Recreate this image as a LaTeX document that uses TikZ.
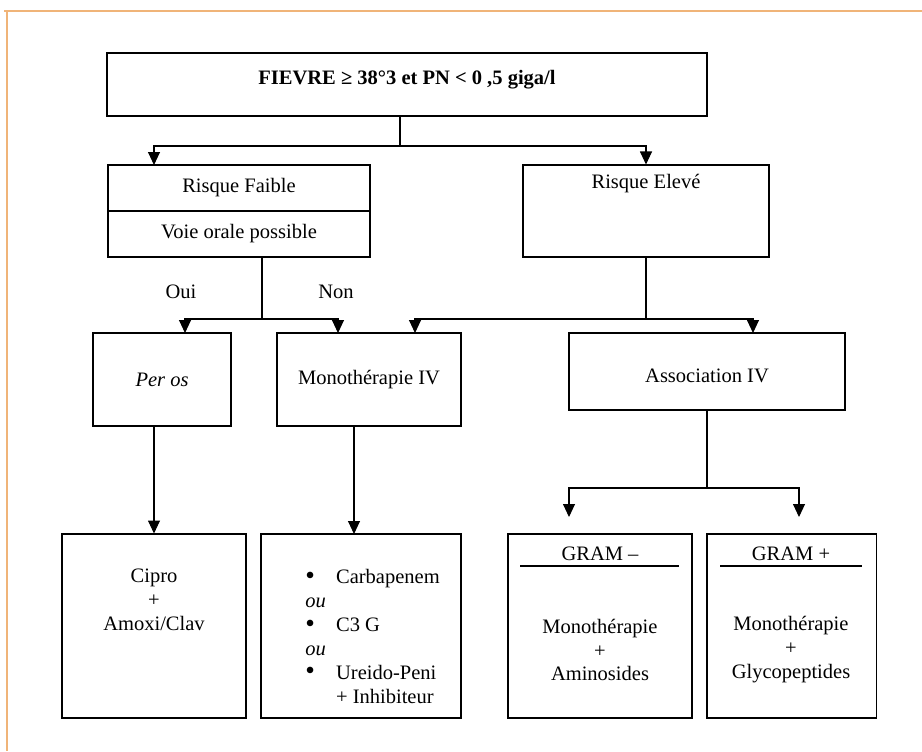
\documentclass[tikz,border=0pt]{standalone}
\usepackage{fontspec}
\setmainfont{Liberation Serif}
\usepackage{tikz}
\usetikzlibrary{arrows.meta}
\newcommand{\pxu}{0.585pt}
\newcommand{\puce}{\makebox[18pt][l]{\raisebox{-.4pt}{\fontsize{16}{14}\selectfont\textbullet}}}
\definecolor{cadre}{RGB}{240,180,120}

\begin{document}
\begin{tikzpicture}[x = \pxu, y = -\pxu,
    box/.style = {draw, line width = .6pt, inner sep = 0pt, align = center, font = \fontsize{12}{14}\selectfont},
    txt/.style = {inner sep = 0pt, align = center, font = \fontsize{12}{14}\selectfont},
    lnk/.style = {line width = .6pt},
    arr/.style = {lnk, -{Triangle[length = 7.6pt, width = 7pt]}}]
    \useasboundingbox (0,0) rectangle (922,751);
    \draw[cadre, line width = 1.2pt] (4,11) -- (922,11) (7,11) -- (7,751);

    % top
    \node[box, minimum width = 600*\pxu, minimum height = 63*\pxu] (fievre) at (407,84.5) {};
    \node[txt] (fievretxt) at (407,80) {\textbf{FIEVRE ≥ 38°3 et PN < 0 ,5 giga/l}};

    % risk
    \node[box, minimum width = 262*\pxu, minimum height = 46*\pxu] (faible) at (239,188) {Risque Faible};
    \node[box, minimum width = 262*\pxu, minimum height = 46*\pxu] (orale) at (239,234) {Voie orale possible};
    \node[box, minimum width = 246*\pxu, minimum height = 92*\pxu] (eleve) at (646,211) {};
    \node[txt] (elevetxt) at (646,184) {Risque Elevé};
    \node[txt] (oui) at (181,292) {Oui};
    \node[txt] (non) at (336,292) {Non};

    % treatment
    \node[box, minimum width = 138*\pxu, minimum height = 93*\pxu] (peros) at (162,379.5) {\textit{Per os}};
    \node[box, minimum width = 184*\pxu, minimum height = 93*\pxu] (mono) at (369,379.5) {Monothérapie IV};
    \node[box, minimum width = 276*\pxu, minimum height = 77*\pxu] (asso) at (707,371.5) {};
    \node[txt] (assotxt) at (707,376) {Association IV};

    % molecules
    \node[box, minimum width = 184*\pxu, minimum height = 184*\pxu] (cipro) at (154,626) {};
    \node[txt] (ciprotxt) at (154,600) {Cipro\\+\\Amoxi/Clav};
    \node[box, minimum width = 200*\pxu, minimum height = 184*\pxu] (liste) at (361,626) {};
    \node[txt, align = left, anchor = north west] (listetxt) at (305,569) {\puce Carbapenem\\\textit{ou}\\\puce C3 G\\\textit{ou}\\\puce Ureido-Peni\\\makebox[18pt][l]{}+ Inhibiteur};
    \node[box, minimum width = 184*\pxu, minimum height = 184*\pxu] (gmoins) at (600,626) {};
    \node[txt] (gmoinstit) at (600,554) {GRAM –};
    \node[txt] (gmoinstxt) at (600,650) {Monothérapie\\+\\Aminosides};
    \node[box, minimum width = 169*\pxu, minimum height = 184*\pxu] (gplus) at (791.5,626) {};
    \node[txt] (gplustit) at (791,554) {GRAM +};
    \node[txt] (gplustxt) at (791,650) {Monothérapie\\+\\Glycopeptides};
    \draw[line width = 1.2pt] (520,566) -- (679,566) (720,566) -- (862,566);

    % joints
    \coordinate (j0) at (400,146);
    \coordinate (j1) at (262,319);
    \coordinate (j2) at (646,319);
    \coordinate (j3) at (707,488);
    \coordinate (faiblein) at (154,165);
    \coordinate (ouiin) at (185,333);
    \coordinate (nonin) at (338,333);
    \coordinate (monoin) at (415,333);
    \coordinate (assoin) at (753,333);
    \coordinate (listein) at (354,534);
    \coordinate (gmoinsin) at (569,517);
    \coordinate (gplusin) at (799,517);

    \draw[lnk] (j0 |- fievre.south) -- (j0);
    \draw[arr] (j0) -| (faiblein);
    \draw[arr] (j0) -| (eleve.north);
    \draw[lnk] (j1 |- orale.south) -- (j1);
    \draw[arr] (j1) -| (ouiin);
    \draw[arr] (j1) -| (nonin);
    \draw[lnk] (eleve.south) -- (j2);
    \draw[arr] (j2) -| (monoin);
    \draw[arr] (j2) -| (assoin);
    \draw[arr] (cipro.north |- peros.south) -- (cipro.north);
    \draw[arr] (listein |- mono.south) -- (listein);
    \draw[lnk] (asso.south) -- (j3);
    \draw[arr] (j3) -| (gmoinsin);
    \draw[arr] (j3) -| (gplusin);
\end{tikzpicture}
\end{document}
